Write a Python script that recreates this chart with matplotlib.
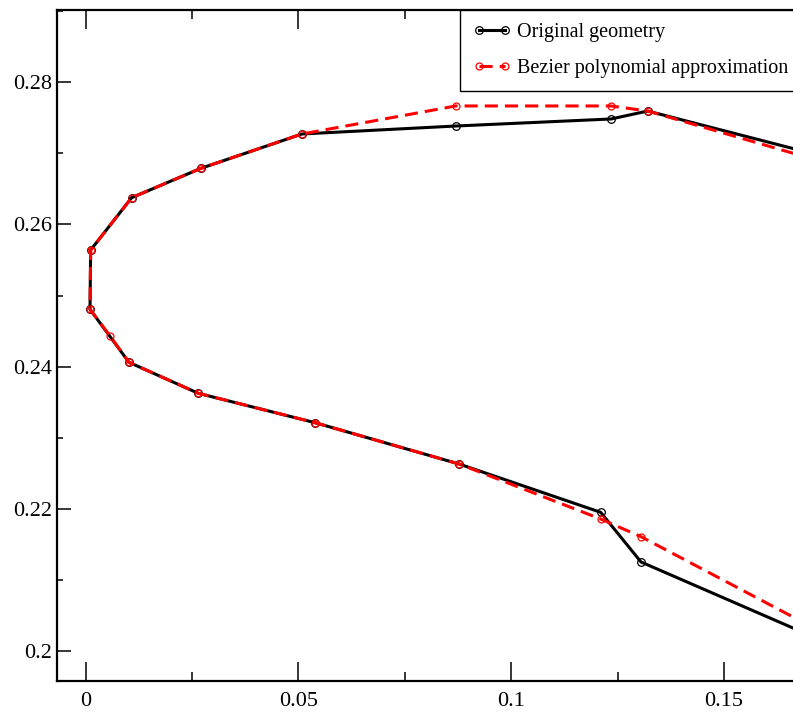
import matplotlib.pyplot as plt
from matplotlib.ticker import MultipleLocator

plt.rcParams['font.family'] = ['Liberation Serif', 'DejaVu Serif']

# original section, traced from upper trailing edge round the nose to lower trailing edge
orig_x = [0.18, 0.13205, 0.12343, 0.08694, 0.05082, 0.02709, 0.01081, 0.00117,
          0.00101, 0.01017, 0.02646, 0.05388, 0.08771, 0.12100, 0.13048, 0.18]
orig_y = [0.26855, 0.27596, 0.27484, 0.27385, 0.27273, 0.26790, 0.26377, 0.25641,
          0.24807, 0.24061, 0.23625, 0.23212, 0.22631, 0.21951, 0.21252, 0.19964]

# Bezier fit of the same section
bez_x = [0.18, 0.13205, 0.12343, 0.08694, 0.05082, 0.02709, 0.01081, 0.00117,
         0.00101, 0.00571, 0.01017, 0.02646, 0.05388, 0.08771, 0.12100, 0.13048, 0.18]
bez_y = [0.26762, 0.27596, 0.27667, 0.27667, 0.27273, 0.26790, 0.26377, 0.25641,
         0.24807, 0.24431, 0.24061, 0.23625, 0.23212, 0.22631, 0.21857, 0.21608, 0.20042]

x_ticks = [0, 0.05, 0.1, 0.15]
x_labels = ['0', '0.05', '0.1', '0.15']
y_ticks = [0.2, 0.22, 0.24, 0.26, 0.28]
y_labels = ['0.2', '0.22', '0.24', '0.26', '0.28']

W, H = 793, 719
fig = plt.figure(figsize=(W / 100, H / 100), dpi=100)
# right edge of the frame sits past the figure border
ax = fig.add_axes([57.3 / W, 38 / H, (810 - 57.3) / W, 671 / H])

ax.plot(orig_x, orig_y, color='black', lw=2.2, marker='o', ms=5.5,
        mfc='none', mec='black', mew=0.9, label='Original geometry', zorder=2)
ax.plot(bez_x, bez_y, color='red', lw=2.2, dashes=(4.3, 2.3), marker='o', ms=5.0,
        mfc='none', mec='red', mew=0.9, label='Bezier polynomial approximation', zorder=3)

ax.set_xlim(-0.00667, 0.17018)
ax.set_ylim(0.19578, 0.29017)

ax.set_xticks(x_ticks)
ax.set_xticklabels(x_labels)
ax.set_yticks(y_ticks)
ax.set_yticklabels(y_labels)
ax.xaxis.set_minor_locator(MultipleLocator(0.025))
ax.yaxis.set_minor_locator(MultipleLocator(0.01))

ax.tick_params(axis='x', which='major', direction='in', length=13.5, width=1.1,
               top=True, labelsize=16, pad=8)
ax.tick_params(axis='x', which='minor', direction='in', length=6.5, width=1.1, top=True)
ax.tick_params(axis='y', which='major', direction='in', length=10, width=1.1,
               right=True, labelsize=16, pad=4)
ax.tick_params(axis='y', which='minor', direction='in', length=4, width=1.1, right=True)

for sp in ax.spines.values():
    sp.set_linewidth(1.6)

leg = ax.legend(loc='upper left', bbox_to_anchor=(460 / W, 1 - 10 / H),
                bbox_transform=fig.transFigure, borderaxespad=0, fontsize=14.5,
                numpoints=2, handlelength=1.9, handletextpad=0.3, borderpad=0.65,
                labelspacing=0.85, fancybox=False, framealpha=1, edgecolor='black')
leg.get_frame().set_linewidth(1.0)

fig.savefig('out.png', dpi=100)
